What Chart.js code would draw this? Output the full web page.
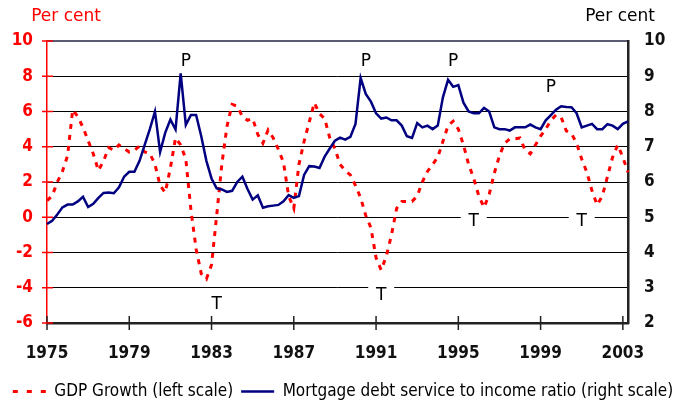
<!DOCTYPE html>
<html>
<head>
<meta charset="utf-8">
<script src="https://cdn.jsdelivr.net/npm/chart.js@4.4.1/dist/chart.umd.min.js"></script>
<style>
  body { margin: 0; background: #fff; }
</style>
</head>
<body>
<canvas id="myChart" width="686" height="402"></canvas>
<script>
const FONT = "'DejaVu Sans Condensed', 'DejaVu Sans', sans-serif";
const WIDE_FONT = "'DejaVu Sans', sans-serif";

// quarterly data, 1975 Q1 to 2003 Q2
const yearTicks = ['1975', '1979', '1983', '1987', '1991', '1995', '1999', '2003'];

const gdpGrowth = [
  0.95, 1.2, 2.0, 2.6, 3.5, 6.1, 5.7, 5.1,
  4.35, 3.6, 2.65, 3.2, 3.95, 3.8, 4.1, 3.9,
  3.7, 3.8, 4.05, 3.7, 3.62, 3.0, 1.8, 1.4,
  2.8, 4.5, 4.1, 3.3, 0.4, -1.8, -3.2, -3.5,
  -2.7, 0.1, 3.0, 5.15, 6.4, 6.3, 5.7, 5.5,
  5.6, 4.7, 4.2, 4.95, 4.5, 3.85, 3.1, 1.2,
  0.5, 3.0, 4.3, 5.4, 6.5, 5.87, 5.6, 4.5,
  3.9, 3.0, 2.65, 2.4, 1.8, 1.1, 0.1, -0.6,
  -2.3, -3.0, -2.2, -1.0, 0.5, 0.9, 0.9, 0.9,
  1.2, 2.0, 2.6, 3.0, 3.4, 4.3, 5.2, 5.45,
  5.0, 4.1, 3.0, 2.2, 1.2, 0.55, 1.3, 2.5,
  3.5, 4.2, 4.45, 4.45, 4.5, 3.8, 3.6, 4.1,
  4.6, 5.0, 5.5, 5.8, 5.67, 4.9, 4.75, 4.2,
  3.3, 2.55, 1.5, 0.7, 1.2, 2.3, 3.4, 4.1,
  3.4, 2.55
];

const mortgageRatio = [
  4.81, 4.9, 5.08, 5.28, 5.36, 5.36, 5.45, 5.58,
  5.29, 5.38, 5.55, 5.69, 5.7, 5.68, 5.85, 6.15,
  6.29, 6.29, 6.6, 7.05, 7.5, 8.0, 6.85, 7.4,
  7.77, 7.49, 9.08, 7.62, 7.9, 7.9, 7.3, 6.6,
  6.1, 5.82, 5.79, 5.72, 5.75, 6.0, 6.15, 5.8,
  5.5, 5.62, 5.27, 5.31, 5.33, 5.35, 5.45, 5.63,
  5.55, 5.6, 6.2, 6.45, 6.44, 6.4, 6.72, 6.95,
  7.17, 7.26, 7.2, 7.28, 7.65, 8.95, 8.5, 8.28,
  7.95, 7.8, 7.83, 7.75, 7.75, 7.6, 7.3, 7.25,
  7.67, 7.55, 7.6, 7.5, 7.6, 8.4, 8.9, 8.7,
  8.75, 8.25, 8.0, 7.95, 7.95, 8.1, 8.0, 7.55,
  7.5, 7.5, 7.46, 7.55, 7.55, 7.55, 7.63, 7.55,
  7.5, 7.75, 7.9, 8.05, 8.15, 8.13, 8.12, 7.95,
  7.55, 7.6, 7.65, 7.5, 7.5, 7.64, 7.6, 7.5,
  7.65, 7.72
];

// peaks and troughs: label, quarter, position on left scale
const turningPoints = [
  ['P', '1981 Q4', 8.9],
  ['T', '1983 Q2', -4.9],
  ['P', '1990 Q3', 8.9],
  ['T', '1991 Q2', -4.4],
  ['P', '1994 Q4', 8.9],
  ['T', '1995 Q4', -0.2],
  ['P', '1999 Q3', 7.4],
  ['T', '2001 Q1', -0.2]
];

const quarters = [];
for (let yr = 1975; quarters.length < gdpGrowth.length; yr++) {
  for (let q = 1; q <= 4 && quarters.length < gdpGrowth.length; q++) {
    quarters.push(yr + ' Q' + q);
  }
}

const chartDecor = {
  id: 'chartDecor',
  beforeDatasetsDraw(chart) {
    const {ctx, scales: {x, y}} = chart;
    ctx.save();
    ctx.font = '17px ' + WIDE_FONT;
    ctx.textAlign = 'center';
    ctx.textBaseline = 'middle';
    turningPoints.forEach(([txt, q, v]) => {
      const px = x.getPixelForValue(quarters.indexOf(q));
      const py = y.getPixelForValue(v);
      ctx.fillStyle = '#fff';
      ctx.fillRect(px - 13, py - 9, 26, 18);
      ctx.fillStyle = '#000';
      ctx.fillText(txt, px, py + 1);
    });
    ctx.restore();
  },
  afterDraw(chart) {
    const {ctx, chartArea, scales: {x, y}} = chart;
    ctx.save();
    ctx.font = '17px ' + WIDE_FONT;
    ctx.textAlign = 'center';
    ctx.textBaseline = 'middle';
    ctx.fillStyle = '#ff0000';
    ctx.fillText('Per cent', chartArea.left + 19, 17);
    ctx.fillStyle = '#000';
    ctx.fillText('Per cent', chartArea.right - 8, 17);

    // year ticks cross the x axis
    ctx.strokeStyle = '#222';
    ctx.lineWidth = 1.5;
    x.ticks.forEach((t, i) => {
      if (t.label == null) return;
      const px = x.getPixelForTick(i);
      ctx.beginPath();
      ctx.moveTo(px, chartArea.bottom - 7);
      ctx.lineTo(px, chartArea.bottom + 7);
      ctx.stroke();
    });
    // red ticks on the left axis
    ctx.strokeStyle = '#ff0000';
    y.ticks.forEach((t, i) => {
      const py = y.getPixelForTick(i);
      ctx.beginPath();
      ctx.moveTo(chartArea.left - 5, py);
      ctx.lineTo(chartArea.left + 6, py);
      ctx.stroke();
    });
    ctx.restore();
  }
};

const ctx = document.getElementById('myChart');

new Chart(ctx, {
  type: 'line',
  data: {
    labels: quarters,
    datasets: [
      {
        label: 'GDP Growth (left scale)',
        data: gdpGrowth,
        yAxisID: 'y',
        borderColor: '#ff0000',
        backgroundColor: '#ff0000',
        borderWidth: 3,
        borderDash: [5, 6],
        pointRadius: 0,
        tension: 0,
        order: 1
      },
      {
        label: 'Mortgage debt service to income ratio (right scale)',
        data: mortgageRatio,
        yAxisID: 'y2',
        borderColor: '#000080',
        backgroundColor: '#000080',
        borderWidth: 2.5,
        pointRadius: 0,
        tension: 0,
        order: 0
      }
    ]
  },
  options: {
    responsive: false,
    animation: false,
    devicePixelRatio: 1,
    layout: { padding: { top: 41, left: 0, right: 0, bottom: -8 } },
    plugins: {
      legend: {
        position: 'bottom',
        labels: {
          usePointStyle: true,
          pointStyle: 'line',
          pointStyleWidth: 33,
          boxHeight: 17,
          padding: 8,
          color: '#000',
          font: { family: FONT, size: 17 },
          sort: (a, b) => a.datasetIndex - b.datasetIndex,
          generateLabels: (chart) =>
            Chart.defaults.plugins.legend.labels.generateLabels(chart).map((item) => {
              const ds = chart.data.datasets[item.datasetIndex];
              item.lineWidth = ds.borderWidth;
              item.lineDash = ds.borderDash ? [5, 9] : [];
              return item;
            })
        }
      },
      tooltip: { enabled: false }
    },
    scales: {
      x: {
        type: 'category',
        offset: false,
        grid: { display: false },
        border: { color: '#222', width: 2.5 },
        ticks: {
          autoSkip: false,
          maxRotation: 0,
          padding: 12,
          color: '#111',
          font: { family: FONT, size: 17, weight: 'bold' },
          callback: function (value) {
            const lab = this.getLabelForValue(value);
            const [yr, q] = lab.split(' ');
            return q === 'Q1' && yearTicks.includes(yr) ? yr : null;
          }
        },
        afterFit: (scale) => { scale.height = 52; }
      },
      y: {
        position: 'left',
        min: -6,
        max: 10,
        ticks: {
          stepSize: 2,
          padding: 14,
          color: '#ff0000',
          font: { family: FONT, size: 17, weight: 'bold' }
        },
        grid: {
          drawTicks: false,
          color: (c) => (c.tick && c.tick.value === 10 ? '#5a5a70' : '#000'),
          lineWidth: (c) => (c.tick && c.tick.value === 10 ? 2 : 1)
        },
        border: { color: '#ff0000', width: 1.5 },
        afterFit: (scale) => { scale.width = 47; }
      },
      y2: {
        position: 'right',
        min: 2,
        max: 10,
        ticks: {
          stepSize: 1,
          padding: 16,
          color: '#111',
          font: { family: FONT, size: 17, weight: 'bold' }
        },
        grid: { drawOnChartArea: false, drawTicks: false },
        border: { color: '#222', width: 2.5 },
        afterFit: (scale) => { scale.width = 58; }
      }
    }
  },
  plugins: [chartDecor]
});
</script>
</body>
</html>
